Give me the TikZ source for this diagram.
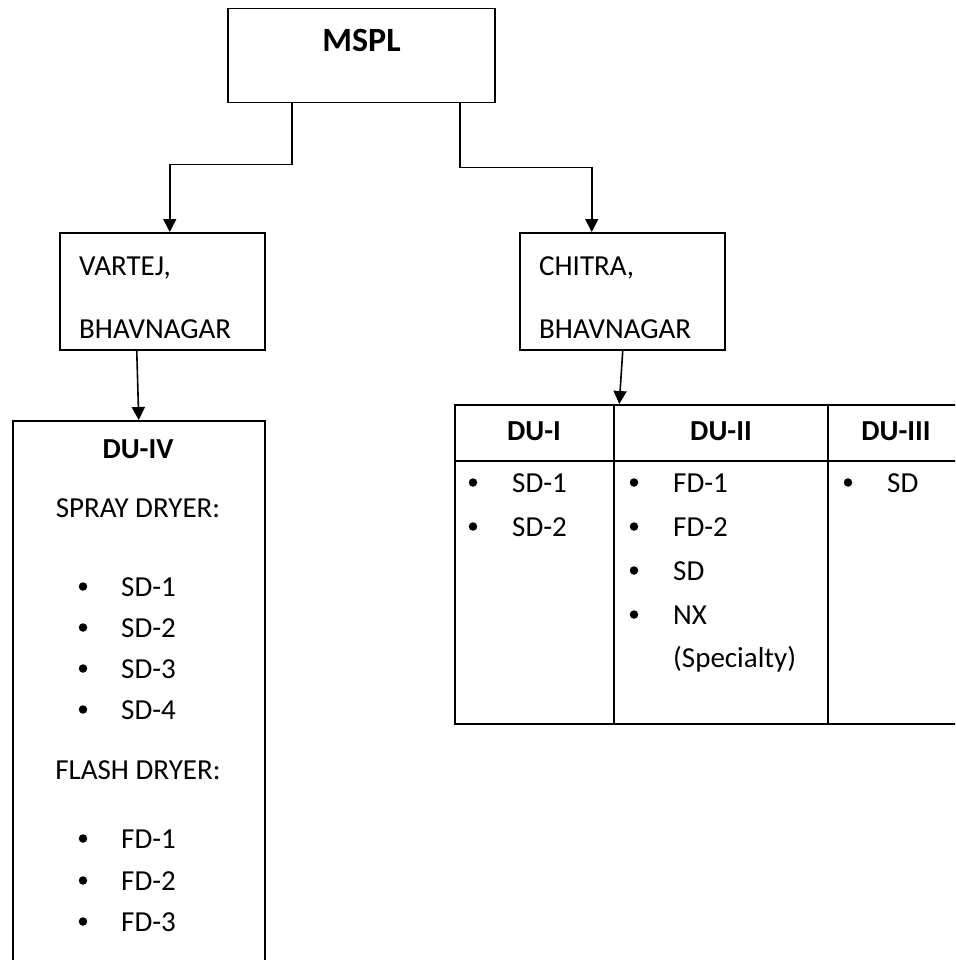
\documentclass[tikz,border=0pt]{standalone}
\usepackage{fontspec}
\setmainfont{Carlito}
\usetikzlibrary{arrows.meta}
\begin{document}
\begin{tikzpicture}[x=1pt,y=-1pt,
  box/.style={draw, line width=1.5pt, inner sep=0pt, anchor=north west},
  txt/.style={inner sep=0pt, anchor=base west, font=\fontsize{29}{35}\selectfont},
  ctxt/.style={inner sep=0pt, anchor=base, font=\fontsize{29}{35}\selectfont},
  btxt/.style={inner sep=0pt, anchor=base, font=\fontsize{29}{35}\selectfont\bfseries},
  bul/.style={circle, fill, inner sep=0pt, minimum size=8.5pt},
  conn/.style={line width=1.6pt, -{Triangle[width=13pt,length=13pt]}},
  tline/.style={line width=2.3pt}]
\useasboundingbox (0,0) rectangle (955,960);
\clip (0,0) rectangle (955,960);
\fill[white] (0,0) rectangle (955,960);

% boxes
\node[box, minimum width=267pt, minimum height=94pt] (mspl) at (227,8) {};
\node[box, minimum width=205pt, minimum height=117pt] (vartej) at (59,232) {};
\node[box, minimum width=205pt, minimum height=117pt] (chitra) at (519,232) {};
\node[box, minimum width=252pt, minimum height=580pt] (du4) at (12,420) {};

% table
\node[draw, tline, inner sep=0pt, anchor=north west, minimum width=530pt, minimum height=319pt] (tbl) at (454,404) {};
\draw[tline] (454,461) -- (990,461);
\draw[tline] (614,404) -- (614,723);
\draw[tline] (828,404) -- (828,723);

% connectors
\draw[conn] ([xshift=-69.5pt]mspl.south) -- ++(0,61) -| ([xshift=7.5pt]vartej.north);
\draw[conn] ([xshift=98.5pt]mspl.south) -- ++(0,64) -| ([xshift=-30.5pt]chitra.north);
\draw[conn] ([xshift=-25.5pt]vartej.south) -- (du4.north);
\draw[conn] ([xshift=0.5pt]chitra.south) -- ([xshift=-3pt]chitra.south |- tbl.north);

% texts
\node[btxt, font=\fontsize{34}{40}\selectfont\bfseries] (tmspl) at (361.5,52) {MSPL};
\node[txt] (tv1) at (79,275) {VARTEJ,};
\node[txt] (tv2) at (79,338) {BHAVNAGAR};
\node[txt] (tc1) at (539,275) {CHITRA,};
\node[txt] (tc2) at (539,338) {BHAVNAGAR};

\node[btxt] (tdu4) at (138,458) {DU-IV};
\node[ctxt] (tspray) at (138,517) {SPRAY DRYER:};
\foreach \t/\yy [count=\i] in {SD-1/596, SD-2/637, SD-3/678, SD-4/719}{
  \node[bul] (sb\i) at (83,\yy-9.5) {};
  \node[txt] (sl\i) at (121,\yy) {\t};
}
\node[ctxt] (tflash) at (138,779) {FLASH DRYER:};
\foreach \t/\yy [count=\i] in {FD-1/848, FD-2/890, FD-3/931}{
  \node[bul] (fb\i) at (83,\yy-9.5) {};
  \node[txt] (fl\i) at (121,\yy) {\t};
}

% table texts
\node[btxt] (h1) at (534,440) {DU-I};
\node[btxt] (h2) at (721,440) {DU-II};
\node[btxt] (h3) at (896,440) {DU-III};
\foreach \t/\yy [count=\i] in {SD-1/492, SD-2/536}{
  \node[bul] (ab\i) at (473,\yy-9.5) {};
  \node[txt] (al\i) at (512,\yy) {\t};
}
\foreach \t/\yy [count=\i] in {FD-1/492, FD-2/536, SD/580, NX/624}{
  \node[bul] (bb\i) at (634,\yy-9.5) {};
  \node[txt] (bl\i) at (673,\yy) {\t};
}
\node[txt] (bl5) at (673,667) {(Specialty)};
\node[bul] (cb1) at (848,482.5) {};
\node[txt] (cl1) at (887,492) {SD};
\end{tikzpicture}
\end{document}
